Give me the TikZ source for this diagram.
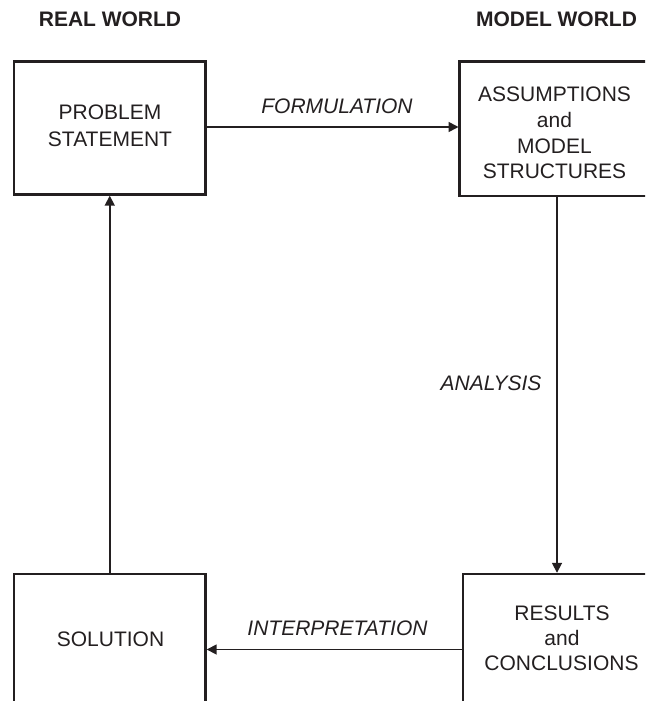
\documentclass[tikz,border=0pt]{standalone}
\usepackage{fontspec}
\setmainfont{Liberation Sans}
\usetikzlibrary{arrows.meta}
\definecolor{ink}{HTML}{231F20}
\begin{document}
\begin{tikzpicture}[x=1pt,y=-1pt,
  box/.style={draw=ink, line width=2.7pt, inner sep=0pt, outer sep=0pt},
  txt/.style={text=ink, inner sep=0pt, anchor=base, font=\fontsize{21}{25}\selectfont},
  head/.style={txt, font=\fontsize{21}{25}\selectfont\bfseries},
  lab/.style={txt, font=\fontsize{21}{25}\selectfont\itshape},
  conn/.style={draw=ink, line width=1.7pt, -{Triangle[length=10pt,width=10pt]}, shorten >=1.2pt}]
\useasboundingbox (0,0) rectangle (645,701);
\clip (0,0) rectangle (645,701);
% headers
\node[head] (hreal) at (110,27) {REAL WORLD};
\node[head] (hmodel) at (556.5,27) {MODEL WORLD};
% boxes
\node[box, minimum width=191.5pt, minimum height=133pt] (ps) at (109.75,128) {};
\node[box, minimum width=190pt, minimum height=134.7pt] (as) at (554.7,128.65) {};
\node[box, minimum width=191.5pt, minimum height=131pt] (sol) at (109.75,639.5) {};
\node[box, minimum width=197pt, minimum height=131pt] (res) at (561.5,639.5) {};
% box texts
\node[txt] (ps1) at (110,119) {PROBLEM};
\node[txt] (ps2) at (110,146) {STATEMENT};
\node[txt] (as1) at (554.5,101) {ASSUMPTIONS};
\node[txt] (as2) at (554.5,127) {and};
\node[txt] (as3) at (554.5,153) {MODEL};
\node[txt] (as4) at (554.5,178) {STRUCTURES};
\node[txt] (sol1) at (110.5,646) {SOLUTION};
\node[txt] (res1) at (562,620) {RESULTS};
\node[txt] (res2) at (562,645) {and};
\node[txt] (res3) at (561.5,670) {CONCLUSIONS};
% connectors
\coordinate (fy) at (0,127);
\coordinate (ax) at (557,0);
\coordinate (iy) at (0,649.5);
\draw[conn] (ps.east |- fy) -- (as.west |- fy);
\draw[conn] (as.south -| ax) -- (res.north -| ax);
\draw[conn] (res.west |- iy) -- (sol.east |- iy);
\draw[conn] (sol.north) -- (ps.south);
% connector labels
\node[lab] (lform) at (337,113) {FORMULATION};
\node[lab] (lana) at (491,390) {ANALYSIS};
\node[lab] (lint) at (337.5,635) {INTERPRETATION};
\end{tikzpicture}
\end{document}
